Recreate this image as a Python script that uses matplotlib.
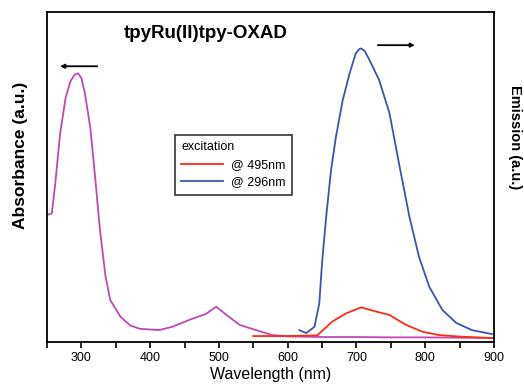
import matplotlib
matplotlib.use("Agg")
import matplotlib.pyplot as plt
from matplotlib.ticker import MultipleLocator

# absorbance (magenta)
abs_x = [250, 257, 262, 269, 277, 284, 290, 295, 300, 305, 313, 320, 327, 335, 342, 357, 371, 385,
         413, 432, 457, 481, 496, 511, 530, 554, 577, 600, 650, 700, 750, 800, 850, 900]
abs_y = [0.385, 0.39, 0.48, 0.63, 0.74, 0.79, 0.81, 0.815, 0.80, 0.755, 0.65, 0.50, 0.34, 0.20, 0.127, 0.076, 0.05, 0.04,
         0.036, 0.046, 0.067, 0.085, 0.107, 0.082, 0.052, 0.036, 0.021, 0.017, 0.015, 0.015, 0.014, 0.014, 0.013, 0.012]

# emission, excitation @ 495 nm (red)
red_x = [550, 600, 643, 665, 685, 707, 729, 748, 772, 796, 820, 853, 897]
red_y = [0.018, 0.018, 0.02, 0.062, 0.087, 0.105, 0.092, 0.082, 0.052, 0.031, 0.021, 0.016, 0.012]

# emission, excitation @ 296 nm (blue)
blue_x = [617, 627, 639, 646, 650, 656, 663, 670, 680, 690, 699, 704, 707, 712, 719, 733, 748, 762,
          777, 791, 806, 825, 845, 868, 897]
blue_y = [0.036, 0.027, 0.046, 0.118, 0.24, 0.38, 0.52, 0.62, 0.733, 0.814, 0.875, 0.888, 0.89, 0.882, 0.855, 0.794, 0.694, 0.54,
          0.38, 0.258, 0.167, 0.097, 0.058, 0.036, 0.024]

plt.rcParams['font.family'] = ['Liberation Sans', 'DejaVu Sans']

fig = plt.figure(figsize=(5.24, 3.88), dpi=100)
ax = fig.add_axes([0.0897, 0.1186, 0.853, 0.850])

ax.plot(abs_x, abs_y, color='#c048b4', linewidth=1.3)
ax.plot(red_x, red_y, color='#ff2a14', linewidth=1.3, label='@ 495nm')
ax.plot(blue_x, blue_y, color='#3a54b4', linewidth=1.3, label='@ 296nm')

ax.set_xlim(250, 900)
ax.set_ylim(0, 1)
ax.xaxis.set_major_locator(MultipleLocator(100))
ax.xaxis.set_minor_locator(MultipleLocator(50))
ax.tick_params(axis='x', which='both', direction='out', length=4, width=1.2, labelsize=9)
ax.set_yticks([])
for s in ax.spines.values():
    s.set_linewidth(1.3)

ax.set_xlabel('Wavelength (nm)', fontsize=11.5, labelpad=2)
fig.text(0.040, 0.60, 'Absorbance (a.u.)', rotation=90, fontsize=12.5, fontweight='bold',
         ha='center', va='center')
fig.text(0.983, 0.647, 'Emission (a.u.)', rotation=270, fontsize=10.5, fontweight='bold',
         ha='center', va='center')

ax.text(0.356, 0.936, 'tpyRu(II)tpy-OXAD', transform=ax.transAxes, fontsize=13.5,
        fontweight='bold', ha='center', va='center')

# arrows pointing to the relevant axis
ax.annotate('', xy=(265, 0.836), xytext=(327, 0.836),
            arrowprops=dict(arrowstyle='-|>', color='black', lw=1.3, mutation_scale=6))
ax.annotate('', xy=(789, 0.90), xytext=(727, 0.90),
            arrowprops=dict(arrowstyle='-|>', color='black', lw=1.3, mutation_scale=6))

leg = ax.legend(title='excitation', loc='upper left', bbox_to_anchor=(0.334, 0.652),
                bbox_transform=fig.transFigure, fontsize=9, title_fontsize=9,
                frameon=True, fancybox=False, edgecolor='black', handlelength=3.3,
                borderpad=0.5, labelspacing=0.45, handletextpad=0.7, borderaxespad=0)
leg._legend_box.align = 'left'
leg.get_frame().set_linewidth(1.2)

fig.savefig('out.png', dpi=100)
